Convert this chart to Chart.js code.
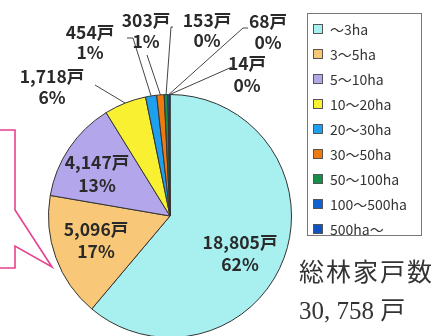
<!DOCTYPE html>
<html>
<head>
<meta charset="utf-8">
<script src="https://cdn.jsdelivr.net/npm/chart.js@4/dist/chart.umd.min.js"></script>
<style>
html, body { margin: 0; padding: 0; background: #fff; width: 431px; height: 336px; overflow: hidden; }
#wrap { position: absolute; left: 0; top: 0; width: 431px; height: 340px; }
#legend {
  position: absolute; left: 307px; top: 13px; width: 115px; height: 223px;
  border: 1px solid #777; box-sizing: border-box; padding-top: 2px;
  font-family: "Noto Sans CJK JP", "Noto Sans", sans-serif; font-size: 14px; color: #333;
}
.item { height: 25px; display: flex; align-items: center; padding-left: 5px; }
.item span:last-child { line-height: 16px; }
.box { width: 8px; height: 8px; border: 1px solid #555; margin-right: 7px; flex: none; }
#total {
  position: absolute; left: 299px; top: 254px; white-space: nowrap;
  font-family: "Liberation Serif", "Noto Sans CJK JP", serif; font-size: 25px; color: #333; line-height: 38px;
}
#total .t1 { letter-spacing: 2px; }
</style>
</head>
<body>
<div id="wrap"><canvas id="pie"></canvas></div>
<div id="legend"></div>
<div id="total"><div class="t1"></div><div class="t2"></div></div>
<script>
// データ
const categories = ['～3ha', '3～5ha', '5～10ha', '10～20ha', '20～30ha', '30～50ha', '50～100ha', '100～500ha', '500ha～'];
const households = [18805, 5096, 4147, 1718, 454, 303, 153, 68, 14];
const percentLabels = ['62%', '17%', '13%', '6%', '1%', '1%', '0%', '0%', '0%'];
const sliceColors = ['#a8f0f0', '#f8c878', '#b4a6ea', '#f8f030', '#1ea0ee', '#f07a12', '#14904a', '#1062d2', '#1052c4'];
const totalTitle = '総林家戸数';

// ラベルの配置 (中心x, 1行目y, 2行目y, 引き出し線の始点)
const labelLayout = [
  { x: 240, y1: 242, y2: 264 },
  { x: 96, y1: 229, y2: 251 },
  { x: 97, y1: 162, y2: 185 },
  { x: 52, y1: 76, y2: 97, lead: [[95, 85]] },
  { x: 90, y1: 32, y2: 52, lead: [[127, 38], [133, 38]] },
  { x: 146, y1: 20, y2: 41, lead: [[147, 55]] },
  { x: 207, y1: 20, y2: 40, lead: [[173, 27], [171, 27]] },
  { x: 268, y1: 21, y2: 42, lead: [[248, 28], [243, 28]] },
  { x: 247, y1: 63, y2: 85, lead: [[232, 67]] },
];

// 凡例
const legendEl = document.getElementById('legend');
categories.forEach((c, i) => {
  const row = document.createElement('div');
  row.className = 'item';
  row.innerHTML = '<span class="box" style="background:' + sliceColors[i] + '"></span><span>' + c + '</span>';
  legendEl.appendChild(row);
});

// 総数
const total = households.reduce((a, b) => a + b, 0);
document.querySelector('#total .t1').textContent = totalTitle;
document.querySelector('#total .t2').textContent = total.toLocaleString('en-US').replace(',', ', ') + ' 戸';

// 吹き出しの枠
const calloutPlugin = {
  id: 'callout',
  beforeDraw(chart) {
    const ctx = chart.ctx;
    ctx.save();
    ctx.strokeStyle = '#e8408e';
    ctx.lineWidth = 1.6;
    ctx.beginPath();
    ctx.moveTo(0, 130);
    ctx.lineTo(15, 130);
    ctx.lineTo(15, 210);
    ctx.lineTo(52, 267);
    ctx.lineTo(15, 246);
    ctx.lineTo(15, 268);
    ctx.lineTo(0, 268);
    ctx.stroke();
    ctx.restore();
  }
};

// ラベルと引き出し線
const labelPlugin = {
  id: 'sliceLabels',
  afterDraw(chart) {
    const ctx = chart.ctx;
    const arcs = chart.getDatasetMeta(0).data;
    ctx.save();
    arcs.forEach((arc, i) => {
      const lay = labelLayout[i];
      if (lay.lead) {
        const mid = (arc.startAngle + arc.endAngle) / 2;
        const ex = arc.x + Math.cos(mid) * arc.outerRadius;
        const ey = arc.y + Math.sin(mid) * arc.outerRadius;
        ctx.strokeStyle = '#444';
        ctx.lineWidth = 1;
        ctx.beginPath();
        ctx.moveTo(lay.lead[0][0], lay.lead[0][1]);
        for (let k = 1; k < lay.lead.length; k++) ctx.lineTo(lay.lead[k][0], lay.lead[k][1]);
        ctx.lineTo(ex, ey);
        ctx.stroke();
      }
      ctx.fillStyle = '#2a2a2a';
      ctx.font = 'bold 17.5px "Noto Sans CJK JP"';
      ctx.textAlign = 'center';
      ctx.textBaseline = 'middle';
      ctx.fillText(households[i].toLocaleString('en-US') + '戸', lay.x, lay.y1);
      ctx.fillText(percentLabels[i], lay.x, lay.y2);
    });
    ctx.restore();
  }
};

new Chart(document.getElementById('pie').getContext('2d'), {
  type: 'pie',
  data: {
    labels: categories,
    datasets: [{
      data: households,
      backgroundColor: sliceColors,
      borderColor: '#333',
      borderWidth: 1,
    }]
  },
  options: {
    responsive: true,
    maintainAspectRatio: false,
    animation: false,
    layout: { padding: { left: 48, top: 94, right: 139, bottom: 2 } },
    plugins: {
      legend: { display: false },
      tooltip: { enabled: false },
    },
  },
  plugins: [calloutPlugin, labelPlugin]
});
</script>
</body>
</html>
